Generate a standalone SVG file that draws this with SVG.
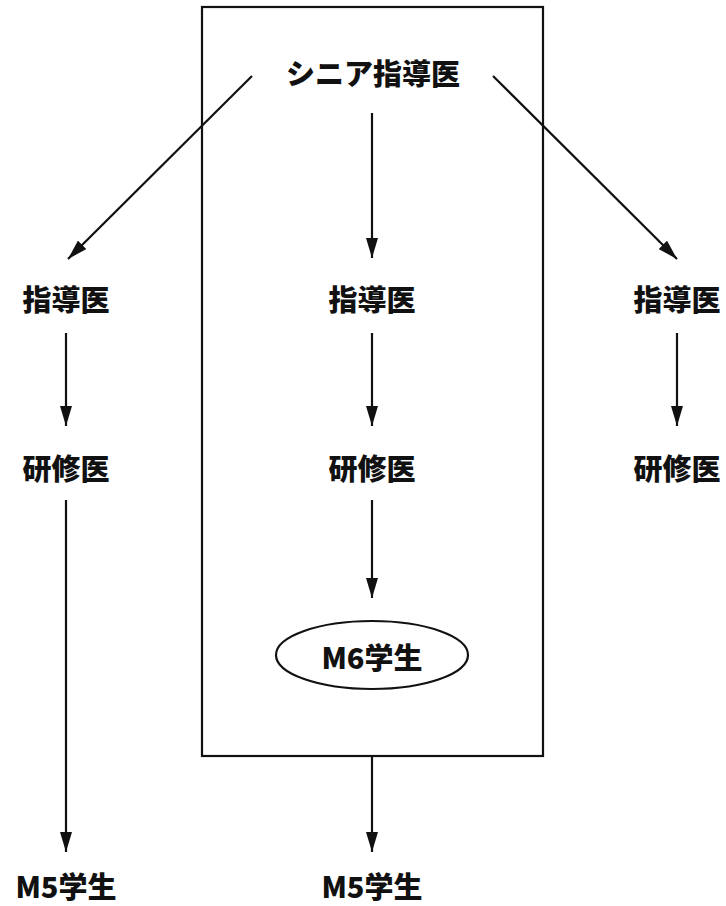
<svg xmlns="http://www.w3.org/2000/svg" width="726" height="906" viewBox="0 0 726 906">
<style>
text{font-family:"Noto Sans CJK JP","Noto Sans",sans-serif;font-weight:900;font-size:29px;fill:#111;text-anchor:middle;dominant-baseline:central}
.ln{stroke:#111;stroke-width:2.2;fill:none}
</style>
<defs>
<marker id="ah" viewBox="0 0 20 12" refX="20" refY="6" markerWidth="20" markerHeight="12" markerUnits="userSpaceOnUse" orient="auto">
<path d="M0,0 L20,6 L0,12 Z" fill="#111"/>
</marker>
</defs>
<rect x="0" y="0" width="726" height="906" fill="#fff"/>
<g id="frame"><rect x="202" y="7" width="341" height="749" class="ln"/></g>
<g id="connectors">
<line x1="252" y1="76" x2="68" y2="259" class="ln" marker-end="url(#ah)"/>
<line x1="493" y1="76" x2="677" y2="259" class="ln" marker-end="url(#ah)"/>
<line x1="372" y1="113" x2="372" y2="258" class="ln" marker-end="url(#ah)"/>
<line x1="66" y1="333" x2="66" y2="426" class="ln" marker-end="url(#ah)"/>
<line x1="372" y1="333" x2="372" y2="426" class="ln" marker-end="url(#ah)"/>
<line x1="677" y1="333" x2="677" y2="426" class="ln" marker-end="url(#ah)"/>
<line x1="66" y1="500" x2="66" y2="852" class="ln" marker-end="url(#ah)"/>
<line x1="372" y1="500" x2="372" y2="598" class="ln" marker-end="url(#ah)"/>
<line x1="372" y1="756" x2="372" y2="852" class="ln" marker-end="url(#ah)"/>
</g>
<g id="senior"><text x="373" y="72">シニア指導医</text></g>
<g id="shidoui-l"><text x="66" y="298">指導医</text></g>
<g id="shidoui-c"><text x="372" y="298">指導医</text></g>
<g id="shidoui-r"><text x="677" y="298">指導医</text></g>
<g id="kenshui-l"><text x="66" y="467">研修医</text></g>
<g id="kenshui-c"><text x="372" y="467">研修医</text></g>
<g id="kenshui-r"><text x="677" y="467">研修医</text></g>
<g id="m6"><ellipse cx="372" cy="655" rx="96" ry="34" class="ln"/><text x="372" y="656">M6学生</text></g>
<g id="m5-l"><text x="66" y="885">M5学生</text></g>
<g id="m5-c"><text x="372" y="885">M5学生</text></g>
</svg>
